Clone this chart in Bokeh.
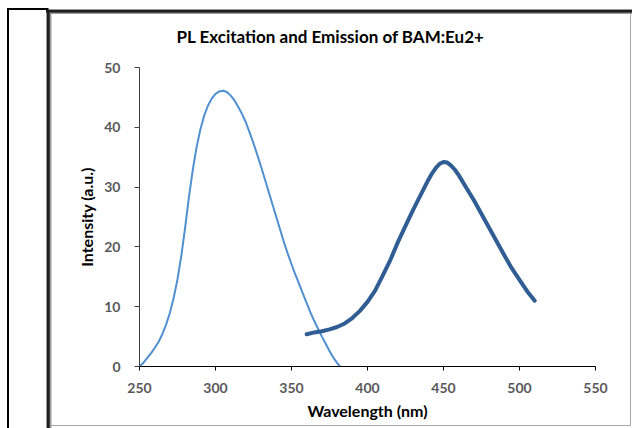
from bokeh.plotting import figure
from bokeh.models import FixedTicker, Range1d
from bokeh.embed import file_html
from bokeh.resources import INLINE

# PL excitation spectrum, wavelength in nm
exc_wavelength = [250, 252.5, 255, 257.5, 260, 262.5, 265, 267.5, 270, 272.5, 275, 277.5,
                  280, 282.5, 285, 287.5, 290, 292.5, 295, 297.5, 300, 302.5, 305, 307.5,
                  310, 312.5, 315, 317.5, 320, 322.5, 325, 327.5, 330, 332.5, 335, 337.5,
                  340, 342.5, 345, 347.5, 350, 352.5, 355, 357.5, 360, 362.5, 365, 367.5,
                  370, 372.5, 375, 377.5, 380, 382]
exc_intensity = [0.0, 0.6, 1.4, 2.2, 3.1, 4.1, 5.4, 7.0, 9.0, 11.5, 14.6, 18.5,
                 23.2, 28.3, 32.8, 36.6, 39.6, 41.9, 43.6, 44.8, 45.6, 46.0, 46.1, 45.9,
                 45.3, 44.5, 43.4, 42.2, 40.8, 39.1, 37.3, 35.4, 33.4, 31.3, 29.2, 27.1,
                 25.0, 22.9, 20.8, 18.9, 17.1, 15.4, 13.8, 12.2, 10.6, 9.0, 7.6, 6.3,
                 5.0, 3.8, 2.6, 1.5, 0.6, 0.0]

# PL emission spectrum of BAM:Eu2+
em_wavelength = [360, 365, 370, 375, 380, 385, 390, 395, 400, 405, 410, 415,
                 420, 425, 430, 435, 440, 442.5, 445, 447.5, 450, 452.5, 455, 457.5,
                 460, 465, 470, 475, 480, 485, 490, 495, 500, 505, 510]
em_intensity = [5.4, 5.7, 5.9, 6.2, 6.6, 7.2, 8.1, 9.3, 10.8, 12.7, 15.2, 17.8,
                20.8, 23.5, 26.2, 28.7, 31.2, 32.3, 33.2, 33.9, 34.2, 34.1, 33.6, 32.9,
                32.0, 29.9, 27.8, 25.5, 23.2, 20.9, 18.6, 16.4, 14.5, 12.6, 11.0]

x_ticks = [250, 300, 350, 400, 450, 500, 550]
y_ticks = [0, 10, 20, 30, 40, 50]

FONT = "Lato"

p = figure(width=632, height=428, output_backend="svg", toolbar_location=None,
           x_range=Range1d(250, 550), y_range=Range1d(0, 50),
           min_border_left=139, min_border_right=37,
           min_border_top=67, min_border_bottom=62,
           title="PL Excitation and Emission of BAM:Eu2+")

# transparent canvas so the page frame drawn behind it shows through
p.background_fill_color = None
p.border_fill_color = None
p.outline_line_color = None
p.grid.visible = False


def stripe(color, x, y, w, h):
    return f"linear-gradient({color}, {color}) {x}px {y}px / {w}px {h}px no-repeat"


frame_layers = [
    stripe("#000000", 6.5, 7.5, 2.3, 420.5),     # outer left edge
    stripe("#000000", 6.5, 7.5, 41.5, 2),        # outer top edge
    stripe("#1e1e1e", 47.3, 10, 2.7, 418),       # chart border, left
    stripe("#1e1e1e", 46, 9.8, 586, 2.6),        # chart border, top
    stripe("#9a9a9a", 45.5, 9, 5.5, 419),        # soft edge, left
    stripe("#9a9a9a", 46, 8.5, 586, 5),          # soft edge, top
    stripe("#a8a8a8", 629.5, 12, 1.2, 413.5),    # chart border, right
    stripe("#a8a8a8", 50, 424.5, 580.7, 1.1),    # chart border, bottom
]
p.styles = {"background": ", ".join(frame_layers) + ", #ffffff"}

p.title.align = "left"
p.title.offset = 37
p.title.text_font = FONT
p.title.text_font_size = "17px"
p.title.text_font_style = "bold"
p.title.text_color = "black"
p.title.standoff = 42

for ax in (p.xaxis[0], p.yaxis[0]):
    ax.major_label_text_font = FONT
    ax.major_label_text_font_size = "14px"
    ax.major_label_text_font_style = "bold"
    ax.major_label_text_color = "#595959"
    ax.axis_label_text_font = FONT
    ax.axis_label_text_font_size = "16px"
    ax.axis_label_text_font_style = "bold"
    ax.axis_label_text_color = "black"
    ax.minor_tick_line_color = None
    ax.major_tick_in = 0

p.xaxis[0].ticker = FixedTicker(ticks=x_ticks)
p.xaxis[0].axis_label = "Wavelength (nm)"
p.xaxis[0].axis_line_color = "black"
p.xaxis[0].major_tick_line_color = "black"
p.xaxis[0].major_tick_out = 4
p.xaxis[0].major_label_standoff = 12
p.xaxis[0].axis_label_standoff = 5

p.yaxis[0].ticker = FixedTicker(ticks=y_ticks)
p.yaxis[0].axis_label = "Intensity (a.u.)"
p.yaxis[0].axis_line_color = "#404040"
p.yaxis[0].major_tick_line_color = "#404040"
p.yaxis[0].major_tick_out = 5
p.yaxis[0].major_label_standoff = 14
p.yaxis[0].axis_label_standoff = 5

# spectra
p.line(exc_wavelength, exc_intensity, line_color="#5090D0", line_width=2, line_join="round")
p.line(em_wavelength, em_intensity, line_color="#2F5D94", line_width=4, line_join="round",
       line_cap="round")

open("out.html", "w").write(file_html(p, INLINE))
